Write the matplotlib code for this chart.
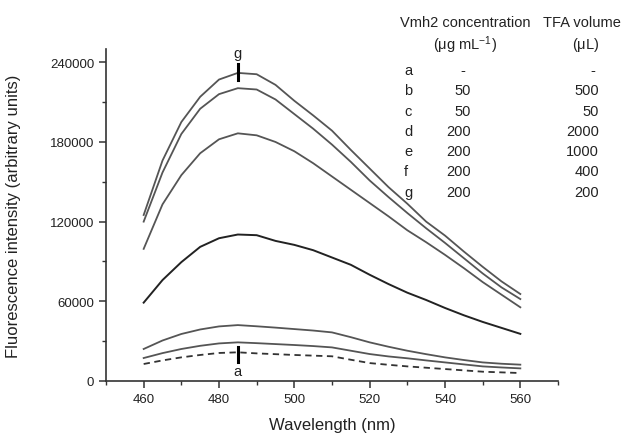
import matplotlib
matplotlib.use("Agg")
import matplotlib.pyplot as plt
from matplotlib.ticker import MultipleLocator, FixedLocator

plt.rcParams['font.family'] = ['Liberation Sans', 'DejaVu Sans']

wavelength = [460, 465, 470, 475, 480, 485, 490, 495, 500, 505, 510,
              515, 520, 525, 530, 535, 540, 545, 550, 555, 560]

curve_a = [12800, 15500, 17800, 19600, 21100, 21600, 20800, 20200, 19600, 19100, 18600,
           16000, 13500, 12200, 11000, 10000, 9000, 8000, 7000, 6500, 6000]
curve_b = [17300, 21000, 24100, 26500, 28300, 29100, 28500, 27800, 27100, 26300, 25300,
           22800, 20300, 18500, 17100, 15500, 14000, 12500, 11000, 10200, 9500]
curve_c = [24100, 30500, 35400, 38800, 41100, 42100, 41200, 40200, 39100, 38000, 36600,
           33000, 29100, 25800, 22800, 20200, 17800, 15800, 14000, 13000, 12300]
curve_d = [59000, 76000, 89500, 101000, 107500, 110300, 109800, 105500, 102500, 98500, 93000,
           87500, 80000, 73000, 66500, 61000, 55000, 49500, 44500, 40000, 35500]
curve_e = [99500, 133000, 155000, 171500, 182000, 186500, 185000, 180000, 173000, 164000, 154000,
           144000, 134000, 124000, 113500, 104500, 95000, 85000, 74500, 65000, 55500]
curve_f = [120000, 157000, 186000, 205000, 216000, 220500, 219500, 212000, 201000, 190000, 178000,
           165000, 151000, 138500, 126500, 115000, 104000, 92500, 81000, 70500, 61700]
curve_g = [125000, 166000, 195000, 214000, 227000, 232000, 231000, 223000, 211000, 200000, 188500,
           174000, 160000, 146000, 133500, 120000, 109500, 97500, 86000, 75000, 65500]

y_ticks = [0, 60000, 120000, 180000, 240000]
x_ticks = [460, 480, 500, 520, 540, 560]

letters = ['a', 'b', 'c', 'd', 'e', 'f', 'g']
vmh2_conc = ['-', '50', '50', '200', '200', '200', '200']
tfa_volume = ['-', '500', '50', '2000', '1000', '400', '200']

W, H = 624, 435
fig = plt.figure(figsize=(W / 100, H / 100), dpi=100)
ax = fig.add_axes([106 / W, 1 - 382 / H, (558 - 106) / W, (382 - 50) / H])

gray = '#555555'
ax.plot(wavelength, curve_a, color='#333333', lw=1.3, ls=(0, (3.5, 2.5)))
ax.plot(wavelength, curve_b, color=gray, lw=1.3)
ax.plot(wavelength, curve_c, color=gray, lw=1.3)
ax.plot(wavelength, curve_d, color='#222222', lw=1.4)
ax.plot(wavelength, curve_e, color=gray, lw=1.3)
ax.plot(wavelength, curve_f, color=gray, lw=1.3)
ax.plot(wavelength, curve_g, color=gray, lw=1.3)

# markers for g and a at 485 nm
ax.plot([485, 485], [227000, 238500], color='black', lw=2.2)
ax.text(485, 242000, 'g', ha='center', va='bottom', fontsize=10.5, color='#222222')
ax.plot([485, 485], [14000, 25400], color='black', lw=2.2)
ax.text(485, 12500, 'a', ha='center', va='top', fontsize=10.5, color='#222222')

ax.set_xlim(450, 570)
ax.set_ylim(0, 250000)
ax.xaxis.set_major_locator(FixedLocator(x_ticks))
ax.xaxis.set_minor_locator(MultipleLocator(10))
ax.yaxis.set_major_locator(FixedLocator(y_ticks))
ax.yaxis.set_minor_locator(MultipleLocator(30000))
ax.set_yticklabels([str(v) for v in y_ticks])
ax.set_xticklabels([str(v) for v in x_ticks])

for s in ['top', 'right']:
    ax.spines[s].set_visible(False)
for s in ['left', 'bottom']:
    ax.spines[s].set_color('#333333')
    ax.spines[s].set_linewidth(1.2)
ax.tick_params(which='major', direction='out', length=5, width=1.1, color='#333333',
               labelsize=9.5, labelcolor='#222222')
ax.tick_params(which='minor', direction='out', length=3, width=1.0, color='#333333')

ax.set_xlabel('Wavelength (nm)', fontsize=12, color='#222222', labelpad=9)
ax.set_ylabel('Fluorescence intensity (arbitrary units)', fontsize=12, color='#222222', labelpad=21)


def ft(x, y, s, **kw):
    fig.text(x / W, 1 - y / H, s, transform=fig.transFigure, fontsize=10.5,
             color='#222222', va='center', **kw)


ft(465, 23, 'Vmh2 concentration', ha='center')
ft(465, 45, r'($\mathregular{\mu}$g mL$\mathregular{^{-1}}$)', ha='center')
ft(582, 23, 'TFA volume', ha='center')
ft(586, 45, r'($\mathregular{\mu}$L)', ha='center')

row_y0, row_dy = 71, 20.3
for i, (lt, cc, tv) in enumerate(zip(letters, vmh2_conc, tfa_volume)):
    y = row_y0 + i * row_dy
    ft(404, y, lt, ha='left')
    if cc == '-':
        ft(463, y, cc, ha='center')
    else:
        ft(471, y, cc, ha='right')
    if tv == '-':
        ft(593, y, tv, ha='center')
    else:
        ft(599, y, tv, ha='right')

fig.savefig('out.png', dpi=100)
